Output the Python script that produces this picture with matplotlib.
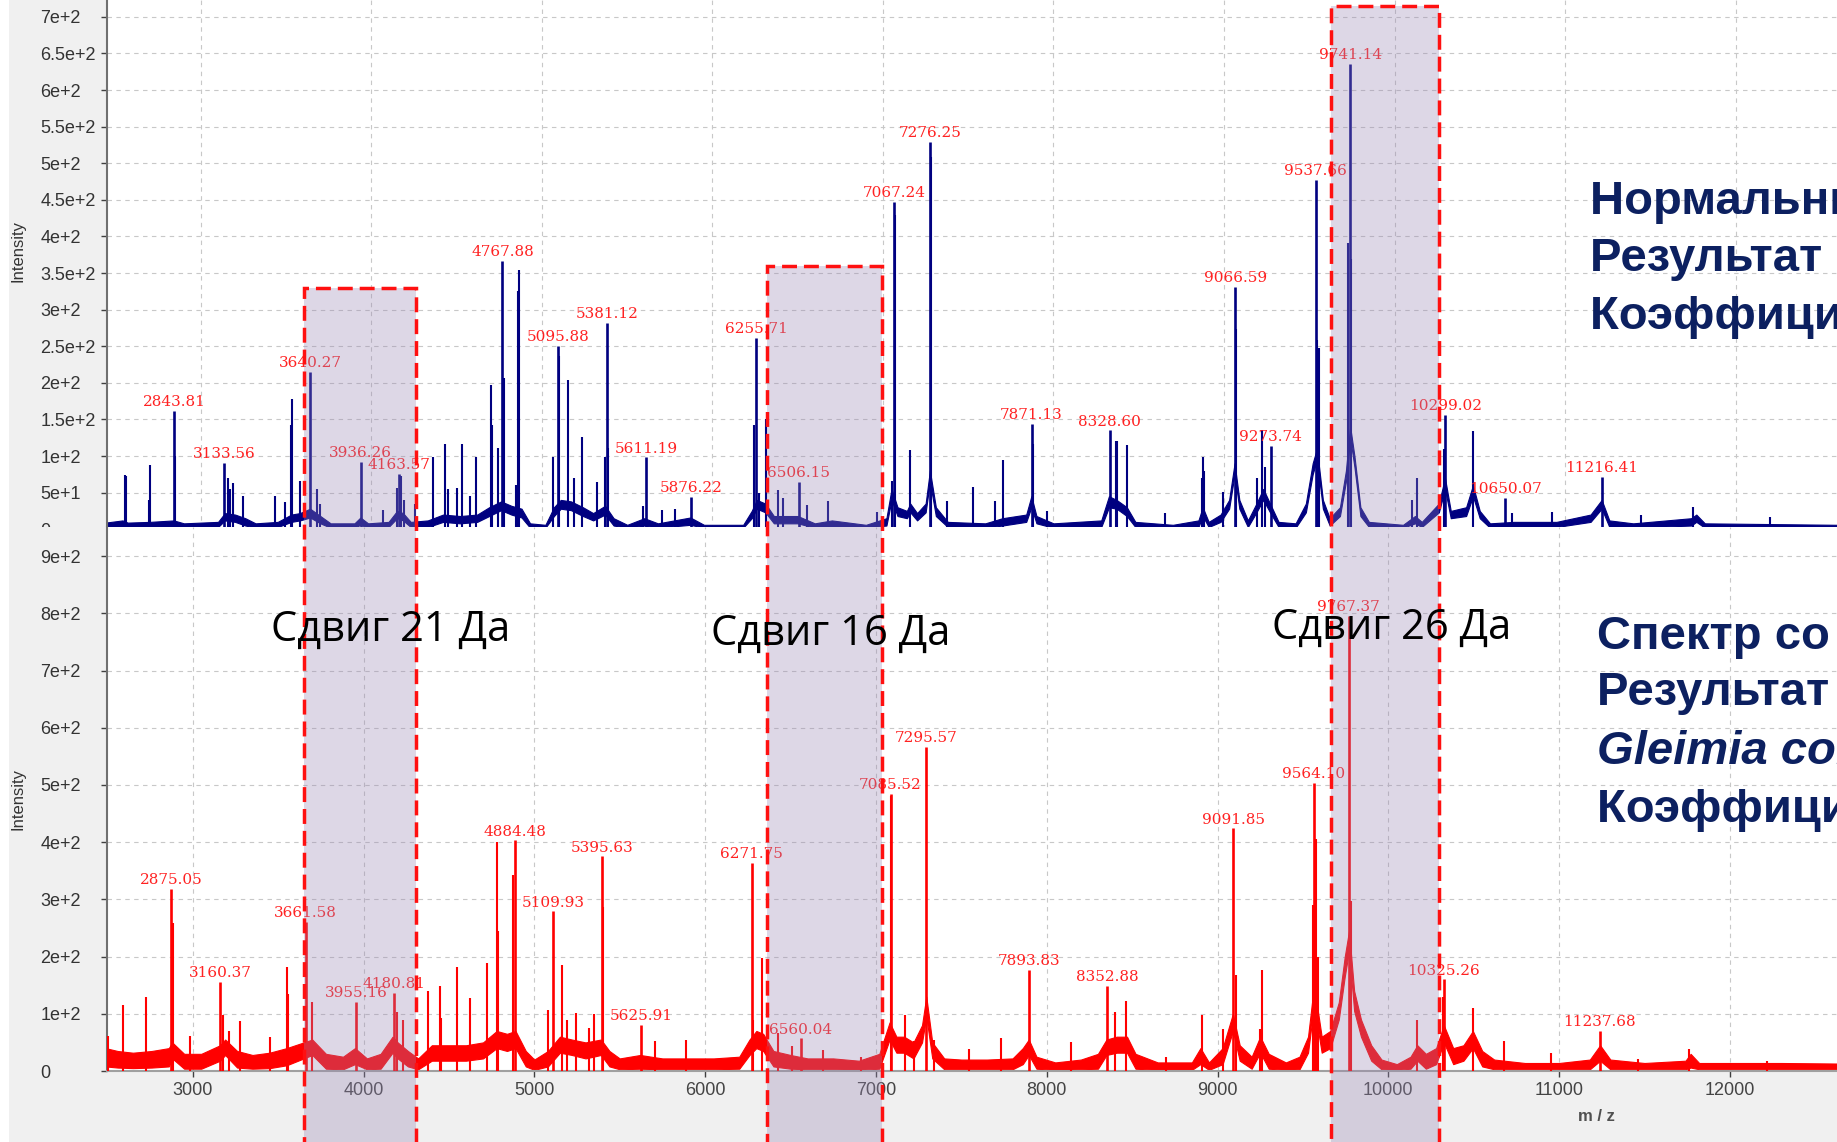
import numpy as np
import matplotlib.pyplot as plt
from matplotlib.patches import Rectangle
from matplotlib.transforms import blended_transform_factory

# ---------------- Нормальный спектр (верхняя панель) ----------------
# подписанные пики: m/z и интенсивность
top_lab_mz = [2843.81, 3133.56, 3640.27, 3936.26, 4163.57, 4767.88, 5095.88, 5381.12,
              5611.19, 5876.22, 6255.71, 6506.15, 7067.24, 7276.25, 7871.13, 8328.60,
              9066.59, 9273.74, 9537.66, 9741.14, 10299.02, 10650.07, 11216.41]
top_lab_int = [162, 90, 215, 92, 76, 367, 250, 282, 98, 44, 261, 64, 447, 529, 144, 135,
               331, 114, 477, 636, 156, 43, 71]

# прочие пики без подписи
top_mz = [2554, 2560, 2695, 2701, 2848, 3160, 3172, 3187, 3246, 3434, 3493, 3530, 3536, 3581,
          3678, 3700, 4069, 4150, 4172, 4190, 4255, 4363, 4431, 4451, 4500, 4533, 4578, 4613,
          4701, 4709, 4744, 4779, 4850, 4861, 4867, 5066, 5101, 5150, 5188, 5233, 5321, 5370,
          5390, 5590, 5703, 5780, 6245, 6270, 6314, 6386, 6412, 6552, 6679, 6963, 7051, 7072,
          7158, 7281, 7375, 7525, 7655, 7706, 7878, 7960, 8365, 8375, 8433, 8654, 8870, 8875,
          8885, 8996, 9071, 9192, 9221, 9239, 9545, 9557, 9729, 9747, 10101, 10134, 10290,
          10462, 10690, 10925, 11447, 11749, 12201]
top_int = [74, 72, 40, 88, 100, 70, 55, 63, 45, 46, 37, 142, 178, 66, 55, 35, 26, 56, 72, 40,
           35, 99, 116, 55, 56, 117, 45, 99, 197, 143, 111, 207, 60, 326, 354, 99, 236, 204,
           70, 126, 64, 99, 111, 32, 26, 27, 142, 50, 150, 54, 43, 33, 39, 24, 66, 429, 108,
           509, 38, 57, 39, 94, 117, 25, 121, 120, 115, 22, 70, 98, 80, 51, 274, 70, 136, 85,
           258, 247, 391, 369, 40, 70, 110, 134, 22, 24, 20, 31, 17]

# полоса шума базовой линии (нижняя и верхняя граница)
top_base_mz = [2440, 2540, 2570, 2700, 2840, 2900, 3100, 3140, 3200, 3260,
               3320, 3450, 3530, 3580, 3640, 3700, 3760, 3900, 3935, 3980,
               4100, 4150, 4185, 4230, 4330, 4420, 4520, 4620, 4690, 4760,
               4820, 4880, 4930, 5020, 5070, 5110, 5170, 5240, 5300, 5370,
               5420, 5500, 5600, 5680, 5870, 5950, 6180, 6230, 6260, 6310,
               6360, 6500, 6600, 6700, 6900, 7020, 7050, 7085, 7140, 7160,
               7200, 7250, 7275, 7310, 7380, 7600, 7700, 7840, 7870, 7900,
               8000, 8280, 8325, 8370, 8430, 8480, 8700, 8850, 8875, 8910,
               8980, 9030, 9062, 9090, 9140, 9190, 9230, 9270, 9320, 9420,
               9480, 9520, 9545, 9580, 9620, 9680, 9715, 9740, 9765, 9800,
               9850, 10050, 10120, 10160, 10260, 10296, 10330, 10420, 10460, 10500,
               10560, 10700, 10950, 11150, 11215, 11260, 11400, 11740, 11770, 11820,
               12600, 13000]
top_base_lo = [2, 3, 2, 3, 3, 2, 3, 12, 10, 5,
               2, 3, 10, 12, 16, 8, 2, 2, 6, 2,
               3, 15, 12, 3, 3, 10, 8, 10, 18, 26,
               20, 16, 2, 2, 18, 28, 26, 18, 12, 20,
               5, 2, 5, 2, 6, 2, 2, 15, 28, 23,
               8, 8, 2, 3, 2, 5, 40, 18, 15, 23,
               12, 23, 65, 18, 3, 2, 5, 10, 30, 8,
               2, 3, 30, 28, 18, 3, 2, 3, 18, 3,
               10, 28, 75, 28, 3, 23, 40, 23, 3, 2,
               23, 75, 95, 28, 5, 18, 65, 125, 85, 18,
               3, 2, 8, 3, 23, 55, 15, 18, 45, 15,
               2, 3, 3, 10, 28, 3, 2, 5, 10, 2,
               2, 2]
top_base_hi = [9, 12, 9, 10, 12, 8, 10, 22, 20, 15,
               8, 10, 20, 22, 28, 18, 8, 8, 16, 8,
               10, 25, 22, 10, 12, 20, 18, 20, 30, 38,
               32, 28, 8, 6, 30, 40, 38, 30, 22, 32,
               15, 6, 15, 8, 16, 6, 6, 25, 40, 35,
               18, 18, 8, 12, 6, 15, 55, 30, 25, 35,
               22, 35, 80, 30, 10, 8, 15, 20, 45, 18,
               8, 12, 45, 40, 30, 10, 6, 12, 30, 10,
               20, 40, 90, 40, 12, 35, 55, 35, 10, 8,
               35, 90, 110, 40, 15, 30, 80, 140, 100, 30,
               10, 6, 18, 10, 35, 70, 25, 30, 60, 25,
               8, 10, 10, 20, 40, 12, 8, 15, 20, 8,
               6, 6]

# ---------------- Спектр со сдвигом (нижняя панель) ----------------
bot_lab_mz = [2875.05, 3160.37, 3661.58, 3955.16, 4180.81, 4884.48, 5109.93, 5395.63,
              5625.91, 6271.75, 6560.04, 7085.52, 7295.57, 7893.83, 8352.88, 9091.85,
              9564.10, 9767.37, 10325.26, 11237.68]
bot_lab_int = [318, 155, 261, 121, 136, 403, 279, 375, 80, 363, 57, 484, 567, 177, 149, 424,
               504, 795, 160, 70]

bot_mz = [2505, 2590, 2727, 2882, 2987, 3180, 3210, 3275, 3452, 3554, 3560, 3700, 4195, 4230,
          4380, 4448, 4456, 4549, 4624, 4721, 4780, 4790, 4878, 5080, 5160, 5190, 5244, 5320,
          5350, 5400, 5705, 5888, 6281, 6333, 6428, 6510, 6690, 6915, 7090, 7170, 7222, 7340,
          7545, 7731, 8145, 8400, 8464, 8700, 8908, 9030, 9110, 9250, 9259, 9559, 9575, 9590,
          9780, 10170, 10318, 10494, 10676, 10950, 11460, 11760, 12220]
bot_int = [62, 115, 130, 258, 62, 98, 70, 87, 60, 182, 135, 120, 104, 90, 140, 148, 92, 182,
           128, 188, 401, 245, 343, 106, 185, 90, 101, 75, 100, 287, 52, 55, 90, 197, 66, 44,
           37, 25, 480, 98, 52, 55, 38, 58, 50, 104, 123, 25, 98, 74, 167, 74, 177, 290, 405,
           200, 297, 90, 130, 110, 52, 31, 21, 38, 17]

bot_base_mz = [2490, 2560, 2650, 2760, 2860, 2880, 2950, 3050, 3160, 3190,
               3260, 3350, 3450, 3550, 3650, 3700, 3780, 3880, 3950, 4020,
               4100, 4170, 4200, 4260, 4320, 4400, 4500, 4600, 4700, 4780,
               4840, 4890, 4950, 5000, 5080, 5150, 5220, 5300, 5390, 5440,
               5500, 5620, 5750, 5900, 6050, 6200, 6260, 6300, 6340, 6400,
               6500, 6600, 6750, 6900, 7020, 7080, 7120, 7165, 7220, 7270,
               7295, 7330, 7400, 7500, 7650, 7800, 7860, 7895, 7940, 8050,
               8200, 8300, 8350, 8410, 8470, 8520, 8650, 8850, 8900, 8950,
               9030, 9090, 9130, 9200, 9250, 9300, 9400, 9480, 9530, 9565,
               9610, 9660, 9710, 9745, 9770, 9800, 9840, 9900, 9960, 10050,
               10130, 10170, 10220, 10280, 10325, 10380, 10440, 10495, 10550, 10620,
               10800, 11000, 11180, 11240, 11300, 11500, 11740, 11770, 11820, 12300,
               13000]
bot_base_lo = [8, 6, 5, 6, 8, 22, 4, 4, 18, 28,
               6, 4, 5, 10, 22, 28, 4, 3, 12, 3,
               4, 32, 22, 8, 3, 18, 18, 18, 22, 40,
               35, 40, 8, 2, 8, 32, 28, 22, 28, 8,
               3, 4, 3, 3, 3, 4, 28, 40, 35, 8,
               4, 3, 3, 2, 4, 55, 32, 32, 22, 50,
               95, 22, 3, 3, 3, 3, 12, 28, 4, 2,
               3, 4, 28, 32, 32, 4, 2, 2, 12, 2,
               12, 70, 18, 4, 32, 4, 2, 3, 32, 115,
               32, 40, 90, 165, 210, 105, 60, 18, 3, 2,
               4, 18, 4, 12, 50, 12, 18, 40, 8, 3,
               3, 3, 3, 18, 3, 3, 3, 6, 3, 3,
               3]
bot_base_hi = [40, 35, 32, 35, 40, 50, 30, 30, 45, 55,
               35, 28, 32, 40, 50, 55, 30, 25, 40, 22,
               30, 60, 50, 35, 22, 45, 45, 45, 50, 70,
               65, 70, 35, 20, 35, 60, 55, 50, 55, 35,
               22, 28, 22, 22, 22, 25, 55, 70, 65, 35,
               28, 22, 22, 18, 30, 85, 60, 60, 50, 80,
               130, 50, 22, 20, 20, 22, 40, 55, 25, 15,
               20, 30, 55, 60, 60, 30, 15, 15, 40, 15,
               40, 100, 45, 25, 60, 30, 15, 25, 60, 150,
               60, 70, 120, 200, 245, 140, 90, 45, 20, 12,
               25, 45, 30, 40, 80, 40, 45, 70, 35, 20,
               14, 14, 20, 45, 20, 14, 18, 30, 14, 14,
               12]

# области сдвига (m/z нижней шкалы) и высота рамок (в единицах верхней шкалы)
shift_regions = [(3653, 4306), (6364, 7036), (9665, 10299)]
shift_tops = [330, 360, 715]
shift_texts = ['Сдвиг 21 Да', 'Сдвиг 16 Да', 'Сдвиг 26 Да']
shift_text_xy = [(3458, 752), (6035, 745), (9317, 755)]

top_ticks = [0, 50, 100, 150, 200, 250, 300, 350, 400, 450, 500, 550, 600, 650, 700]
top_tick_labels = ['0', '5e+1', '1e+2', '1.5e+2', '2e+2', '2.5e+2', '3e+2', '3.5e+2', '4e+2',
                   '4.5e+2', '5e+2', '5.5e+2', '6e+2', '6.5e+2', '7e+2']
bot_ticks = [0, 100, 200, 300, 400, 500, 600, 700, 800, 900]
bot_tick_labels = ['0', '1e+2', '2e+2', '3e+2', '4e+2', '5e+2', '6e+2', '7e+2', '8e+2', '9e+2']
mz_ticks = [3000, 4000, 5000, 6000, 7000, 8000, 9000, 10000, 11000, 12000]

# ---------------- рисунок ----------------
W, H = 1837, 1142
fig = plt.figure(figsize=(W / 100, H / 100), dpi=100, facecolor='#f0f0f0')

ax_top = fig.add_axes([107 / W, 1 - 529.2 / H, (1900 - 107) / W, 529.2 / H], zorder=0)
ax_bot = fig.add_axes([107 / W, 1 - 1071 / H, (1900 - 107) / W, (1071 - 527) / H], zorder=1)

# серое поле нижнего скриншота закрывает край верхнего
fig.add_artist(Rectangle((9 / W, 0), (107 - 9) / W, 1 - 527 / H, transform=fig.transFigure,
                         facecolor='#f0f0f0', edgecolor='none', zorder=0.5))
fig.add_artist(Rectangle((0, 0), 9 / W, 1, transform=fig.transFigure,
                         facecolor='white', edgecolor='none', zorder=10))


def draw_spectrum(ax, color, base_mz, base_lo, base_hi, mz, inten, lab_mz, lab_int,
                  xlim, ylim, ticks, tick_labels):
    ax.set_facecolor('white')
    ax.fill_between(base_mz, base_lo, base_hi, color=color, lw=0.8, zorder=2)
    ax.vlines(mz, 0, inten, color=color, lw=1.5, zorder=3)
    ax.vlines(lab_mz, 0, lab_int, color=color, lw=1.9, zorder=3)
    for m, h in zip(lab_mz, lab_int):
        ax.annotate(f'{m:.2f}', (m, h), xytext=(0, 3.5), textcoords='offset points',
                    ha='center', va='baseline', fontsize=11, family='DejaVu Serif',
                    color='#ff2222', zorder=4, annotation_clip=False)
    ax.set_xlim(*xlim)
    ax.set_ylim(*ylim)
    ax.set_yticks(ticks)
    ax.set_yticklabels(tick_labels)
    ax.set_xticks(mz_ticks)
    ax.grid(True, color='#c8c8c8', lw=0.8, ls=(0, (4, 4)))
    ax.set_axisbelow(True)
    for s in ['top', 'right', 'bottom']:
        ax.spines[s].set_visible(False)
    ax.spines['left'].set_color('#707070')
    ax.spines['left'].set_linewidth(1.5)
    ax.tick_params(axis='y', length=4, width=1, color='#404040', pad=44,
                   labelsize=13, labelcolor='#333333')
    for lbl in ax.get_yticklabels():
        lbl.set_horizontalalignment('left')
        lbl.set_family('Liberation Sans')


draw_spectrum(ax_top, '#000080', top_base_mz, top_base_lo, top_base_hi, top_mz, top_int,
              top_lab_mz, top_lab_int, (2448.7, 12964.8), (0, 723), top_ticks, top_tick_labels)
ax_top.tick_params(axis='x', length=0, labelbottom=False)

draw_spectrum(ax_bot, '#ff0000', bot_base_mz, bot_base_lo, bot_base_hi, bot_mz, bot_int,
              bot_lab_mz, bot_lab_int, (2498.2, 12995.9), (0, 951), bot_ticks, bot_tick_labels)
ax_bot.spines['bottom'].set_visible(True)
ax_bot.spines['bottom'].set_color('#a0a0a0')
ax_bot.spines['bottom'].set_linewidth(1.5)
ax_bot.tick_params(axis='x', length=4, width=1, color='#404040', pad=4,
                   labelsize=13, labelcolor='#444444')
for lbl in ax_bot.get_xticklabels():
    lbl.set_family('Liberation Sans')
ax_bot.text(11220, -80, 'm / z', ha='center', va='center', fontsize=12, fontweight='bold',
            color='#505050', family='Liberation Sans', clip_on=False)

fig.text(18 / W, 1 - 251 / H, 'Intensity', rotation=90, ha='center', va='center',
         fontsize=12, color='#333333', family='Liberation Sans')
fig.text(18 / W, 1 - 799 / H, 'Intensity', rotation=90, ha='center', va='center',
         fontsize=12, color='#333333', family='Liberation Sans')

# выделенные области сдвига пиков
box_tr = blended_transform_factory(ax_bot.transData, ax_top.transData)
for (x0, x1), top in zip(shift_regions, shift_tops):
    fig.add_artist(Rectangle((x0, -900), x1 - x0, top + 900, transform=box_tr,
                             facecolor='#9a88b5', alpha=0.33, edgecolor='none', zorder=2))
    fig.add_artist(Rectangle((x0, -900), x1 - x0, top + 900, transform=box_tr, fill=False,
                             edgecolor='#ff1010', lw=2.5, ls=(0, (4.3, 2.0)), zorder=3))

for s, (x, y) in zip(shift_texts, shift_text_xy):
    fig.text(x, y, s, transform=ax_bot.transData, fontsize=30, family='Open Sans',
             color='black', va='baseline', ha='left', zorder=5)

navy = '#0c2060'
top_lines = ['Нормальный спектр', 'Результат идентификации', 'Коэффициент совпадения']
top_line_y = [431, 353, 273.5]
for s, y in zip(top_lines, top_line_y):
    fig.text(11147, y, s, transform=ax_top.transData, fontsize=34, fontweight='bold',
             family='Liberation Sans', color=navy, va='baseline', zorder=5)

bot_lines = ['Спектр со сдвигом', 'Результат идентификации', 'Gleimia coleocanis',
             'Коэффициент совпадения']
bot_line_y = [738, 640, 537, 435]
for i, (s, y) in enumerate(zip(bot_lines, bot_line_y)):
    fig.text(11222, y, s, transform=ax_bot.transData, fontsize=34, fontweight='bold',
             fontstyle='italic' if i == 2 else 'normal',
             family='Liberation Sans', color=navy, va='baseline', zorder=5)

fig.savefig('out.png', dpi=100, facecolor=fig.get_facecolor())
